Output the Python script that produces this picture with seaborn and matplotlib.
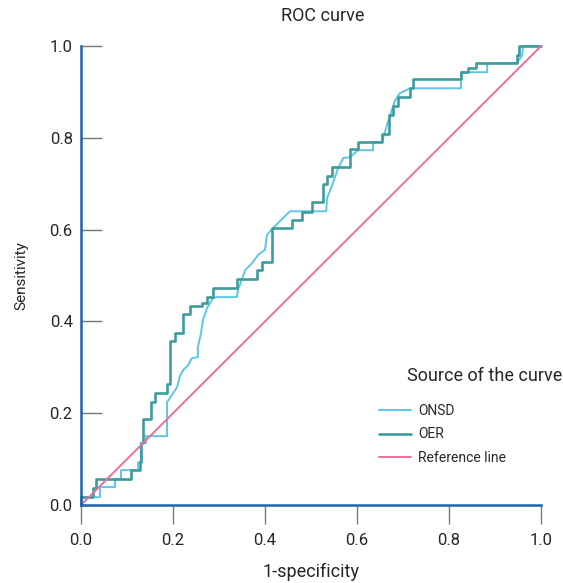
import pandas as pd
import matplotlib
matplotlib.use('Agg')
from matplotlib import pyplot
import seaborn as sns

# ROC points (1-specificity, sensitivity)
onsd_fpr = [0.0, 0.0, 0.041, 0.041, 0.074, 0.074, 0.087, 0.087, 0.124, 0.124, 0.130, 0.130,
            0.141, 0.141, 0.187, 0.187, 0.193, 0.209, 0.215, 0.222, 0.233, 0.241, 0.254,
            0.254, 0.261, 0.265, 0.274, 0.287, 0.296, 0.339, 0.341, 0.357, 0.372, 0.385,
            0.400, 0.404, 0.417, 0.454, 0.533, 0.535, 0.546, 0.559, 0.570, 0.585, 0.602,
            0.635, 0.635, 0.654, 0.672, 0.683, 0.693, 0.715, 0.826, 0.826, 0.883, 0.883,
            0.948, 0.959, 0.961, 1.0]
onsd_tpr = [0.0, 0.017, 0.017, 0.039, 0.039, 0.057, 0.057, 0.076, 0.076, 0.093, 0.093, 0.135,
            0.135, 0.150, 0.150, 0.224, 0.233, 0.257, 0.281, 0.294, 0.305, 0.320, 0.322,
            0.344, 0.375, 0.403, 0.429, 0.451, 0.453, 0.453, 0.468, 0.512, 0.527, 0.545,
            0.556, 0.588, 0.603, 0.640, 0.640, 0.669, 0.697, 0.734, 0.756, 0.758, 0.773,
            0.773, 0.791, 0.791, 0.850, 0.882, 0.897, 0.908, 0.908, 0.943, 0.943, 0.963,
            0.963, 0.980, 1.0, 1.0]
oer_fpr = [0.0, 0.0, 0.026, 0.026, 0.033, 0.033, 0.109, 0.109, 0.128, 0.128, 0.130, 0.130,
           0.135, 0.135, 0.152, 0.152, 0.161, 0.161, 0.187, 0.187, 0.193, 0.193, 0.204,
           0.204, 0.222, 0.222, 0.237, 0.237, 0.263, 0.263, 0.274, 0.274, 0.287, 0.287,
           0.339, 0.339, 0.383, 0.383, 0.394, 0.394, 0.415, 0.415, 0.459, 0.459, 0.480,
           0.480, 0.502, 0.502, 0.526, 0.526, 0.535, 0.535, 0.546, 0.546, 0.585, 0.585,
           0.602, 0.602, 0.654, 0.654, 0.670, 0.670, 0.678, 0.678, 0.689, 0.689, 0.715,
           0.715, 0.722, 0.722, 0.826, 0.826, 0.841, 0.841, 0.859, 0.859, 0.948, 0.948,
           0.952, 0.952, 1.0]
oer_tpr = [0.0, 0.017, 0.017, 0.037, 0.037, 0.057, 0.057, 0.076, 0.076, 0.093, 0.093, 0.135,
           0.135, 0.187, 0.187, 0.224, 0.224, 0.244, 0.244, 0.263, 0.263, 0.357, 0.357,
           0.375, 0.375, 0.416, 0.416, 0.434, 0.434, 0.440, 0.440, 0.453, 0.453, 0.473,
           0.473, 0.492, 0.492, 0.511, 0.511, 0.529, 0.529, 0.603, 0.603, 0.621, 0.621,
           0.638, 0.638, 0.660, 0.660, 0.699, 0.699, 0.716, 0.716, 0.737, 0.737, 0.776,
           0.776, 0.791, 0.791, 0.808, 0.808, 0.850, 0.850, 0.869, 0.869, 0.889, 0.889,
           0.908, 0.908, 0.928, 0.928, 0.943, 0.943, 0.952, 0.952, 0.963, 0.963, 0.980,
           0.980, 1.0, 1.0]
ref_line = [0.0, 1.0]

onsd = pd.DataFrame({'fpr': onsd_fpr, 'tpr': onsd_tpr})
oer = pd.DataFrame({'fpr': oer_fpr, 'tpr': oer_tpr})
ref = pd.DataFrame({'fpr': ref_line, 'tpr': ref_line})

sns.set_style('white')
pyplot.rcParams['font.family'] = ['Roboto', 'DejaVu Sans']

fig = pyplot.figure(figsize=(5.63, 5.83), dpi=100)
ax = fig.add_axes([0.1439, 0.1338, 0.817, 0.7872])

sns.lineplot(data=onsd, x='fpr', y='tpr', sort=False, estimator=None, color='#5cc6e6',
             linewidth=1.4, label='ONSD', ax=ax, clip_on=False)
sns.lineplot(data=oer, x='fpr', y='tpr', sort=False, estimator=None, color='#3f9c9c',
             linewidth=1.9, label='OER', ax=ax, clip_on=False)
sns.lineplot(data=ref, x='fpr', y='tpr', sort=False, estimator=None, color='#e8709c',
             linewidth=1.4, label='Reference line', ax=ax, clip_on=False)

ax.set_xlim(0, 1)
ax.set_ylim(0, 1)
ax.set_xticks([0, 0.2, 0.4, 0.6, 0.8, 1.0])
ax.set_yticks([0, 0.2, 0.4, 0.6, 0.8, 1.0])
ax.set_xticklabels(['0.0', '0.2', '0.4', '0.6', '0.8', '1.0'])
ax.set_yticklabels(['0.0', '0.2', '0.4', '0.6', '0.8', '1.0'])
ax.tick_params(axis='x', direction='out', length=14, width=1, color='#777777',
               labelsize=12, pad=6, bottom=True)
ax.tick_params(axis='y', direction='in', length=15, width=1, color='#777777',
               labelsize=12, pad=6, left=True)

for s in ['top', 'right']:
    ax.spines[s].set_visible(False)
for s in ['left', 'bottom']:
    ax.spines[s].set_color('#1f63a8')
    ax.spines[s].set_linewidth(1.8)

ax.set_xlabel('1-specificity', fontsize=13, labelpad=11)
ax.set_ylabel('Sensitivity', fontsize=11, labelpad=15)
ax.text(0.526, 1.045, 'ROC curve', transform=ax.transAxes, ha='center', va='bottom',
        fontsize=13)

fig.text(562 / 563, 1 - 376 / 583, 'Source of the curve', ha='right', va='center',
         fontsize=13)
leg = ax.legend(loc='upper left', bbox_to_anchor=(379 / 563, 1 - 404 / 583),
                bbox_transform=fig.transFigure, frameon=False, fontsize=10,
                handlelength=2.3, handletextpad=0.5, labelspacing=0.68,
                borderaxespad=0, borderpad=0)

fig.savefig('out.png', dpi=100)
